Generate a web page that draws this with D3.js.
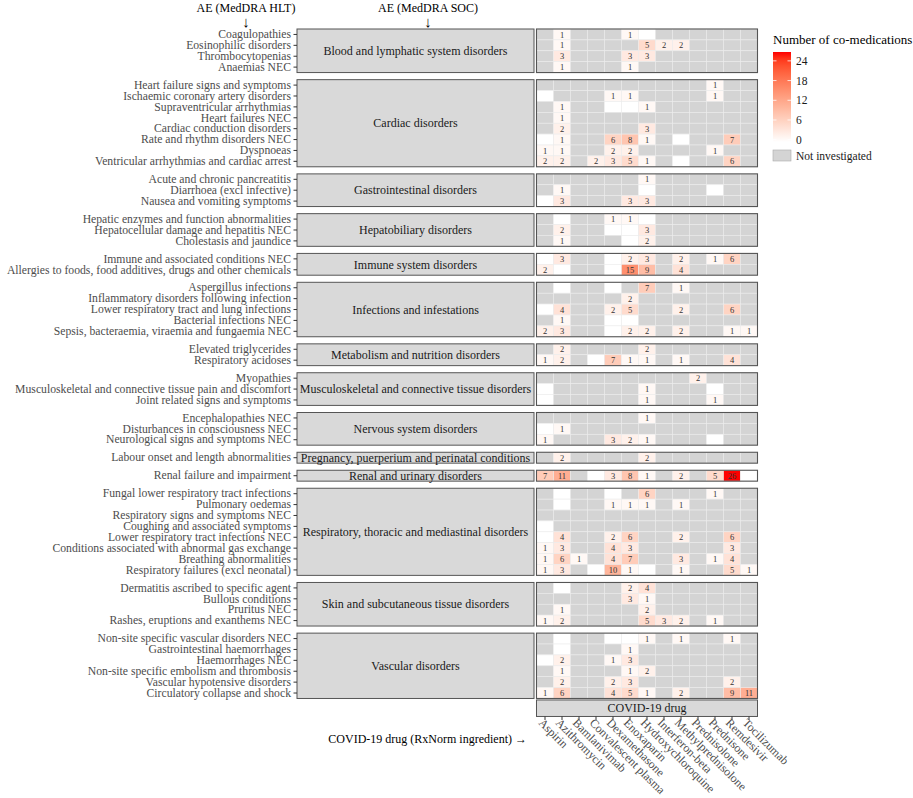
<!DOCTYPE html>
<html>
<head>
<meta charset="utf-8">
<script src="https://cdn.jsdelivr.net/npm/d3@7"></script>
<style>
  body { margin: 0; background: #fff; }
  text { font-family: "Liberation Serif", "Times New Roman", serif; }
</style>
</head>
<body>
<div id="chart"></div>
<script>
const drugs = ["Aspirin", "Azithromycin", "Bamlanivimab", "Convalescent plasma", "Dexamethasone",
  "Enoxaparin", "Hydroxychloroquine", "Interferon-beta", "Methylprednisolone", "Prednisolone",
  "Prednisone", "Remdesivir", "Tocilizumab"]

const socs = ["Blood and lymphatic system disorders", "Cardiac disorders", "Gastrointestinal disorders",
  "Hepatobiliary disorders", "Immune system disorders", "Infections and infestations",
  "Metabolism and nutrition disorders", "Musculoskeletal and connective tissue disorders",
  "Nervous system disorders", "Pregnancy, puerperium and perinatal conditions",
  "Renal and urinary disorders", "Respiratory, thoracic and mediastinal disorders",
  "Skin and subcutaneous tissue disorders", "Vascular disorders"]

const hlts = [
  ["Coagulopathies", "Eosinophilic disorders", "Thrombocytopenias", "Anaemias NEC"],
  ["Heart failure signs and symptoms", "Ischaemic coronary artery disorders", "Supraventricular arrhythmias",
   "Heart failures NEC", "Cardiac conduction disorders", "Rate and rhythm disorders NEC", "Dyspnoeas",
   "Ventricular arrhythmias and cardiac arrest"],
  ["Acute and chronic pancreatitis", "Diarrhoea (excl infective)", "Nausea and vomiting symptoms"],
  ["Hepatic enzymes and function abnormalities", "Hepatocellular damage and hepatitis NEC", "Cholestasis and jaundice"],
  ["Immune and associated conditions NEC", "Allergies to foods, food additives, drugs and other chemicals"],
  ["Aspergillus infections", "Inflammatory disorders following infection", "Lower respiratory tract and lung infections",
   "Bacterial infections NEC", "Sepsis, bacteraemia, viraemia and fungaemia NEC"],
  ["Elevated triglycerides", "Respiratory acidoses"],
  ["Myopathies", "Musculoskeletal and connective tissue pain and discomfort", "Joint related signs and symptoms"],
  ["Encephalopathies NEC", "Disturbances in consciousness NEC", "Neurological signs and symptoms NEC"],
  ["Labour onset and length abnormalities"],
  ["Renal failure and impairment"],
  ["Fungal lower respiratory tract infections", "Pulmonary oedemas", "Respiratory signs and symptoms NEC",
   "Coughing and associated symptoms", "Lower respiratory tract infections NEC",
   "Conditions associated with abnormal gas exchange", "Breathing abnormalities", "Respiratory failures (excl neonatal)"],
  ["Dermatitis ascribed to specific agent", "Bullous conditions", "Pruritus NEC", "Rashes, eruptions and exanthems NEC"],
  ["Non-site specific vascular disorders NEC", "Gastrointestinal haemorrhages", "Haemorrhages NEC",
   "Non-site specific embolism and thrombosis", "Vascular hypotensive disorders", "Circulatory collapse and shock"]
]

// null = not investigated, 0 = investigated with no co-medication
const n = null
const counts = [
  [[n,1,n,n,n,1,0,n,n,n,n,n,n], [n,1,n,n,n,n,5,2,2,n,n,n,n], [n,3,n,n,n,3,3,n,n,n,n,n,n], [n,1,n,n,n,1,n,n,n,n,n,n,n]],
  [[n,n,n,n,n,n,n,n,n,n,1,n,n], [0,n,n,n,1,1,n,n,n,n,1,n,n], [n,1,n,n,0,0,1,n,n,n,n,n,n], [n,1,n,n,n,n,n,n,n,n,n,n,n],
   [n,2,n,n,n,n,3,n,n,n,n,n,n], [0,1,n,n,6,8,1,n,0,n,n,7,n], [1,1,n,n,2,2,n,n,n,n,1,n,n], [2,2,n,2,3,5,1,n,0,n,n,6,n]],
  [[n,n,n,n,n,n,1,n,n,n,n,n,n], [n,1,n,n,n,n,0,n,n,n,0,n,n], [0,3,n,n,n,3,3,n,n,n,n,n,n]],
  [[n,0,n,n,1,1,0,n,n,n,n,n,n], [n,2,n,n,0,0,3,n,n,n,n,n,n], [n,1,n,n,n,0,2,n,n,n,n,n,n]],
  [[0,3,n,n,0,2,3,n,2,n,1,6,n], [2,0,n,n,0,15,9,n,4,n,n,n,n]],
  [[n,0,n,n,0,n,7,n,1,n,n,n,n], [n,n,n,n,n,2,n,n,n,n,n,n,n], [0,4,n,n,2,5,n,n,2,n,n,6,n], [n,1,n,n,0,0,n,n,n,n,n,n,n],
   [2,3,n,n,0,2,2,n,2,n,n,1,1]],
  [[n,2,n,n,n,n,2,n,n,n,n,n,n], [1,2,n,0,7,1,1,n,1,n,n,4,n]],
  [[n,n,n,n,n,n,n,n,n,2,n,n,n], [0,n,n,n,n,n,1,n,n,n,0,n,n], [0,n,n,n,n,n,1,n,n,n,1,n,n]],
  [[n,n,n,n,n,n,1,n,n,n,n,n,n], [0,1,n,n,n,n,n,n,n,n,n,n,n], [1,n,n,n,3,2,1,n,n,n,0,n,n]],
  [[n,2,n,n,n,n,2,n,n,n,n,n,n]],
  [[7,11,n,0,3,8,1,n,2,n,5,26,0]],
  [[n,0,n,n,0,n,6,n,n,n,1,n,n], [n,0,n,n,1,1,1,n,1,n,n,n,n], [n,n,n,n,n,n,n,n,n,n,n,n,n], [0,n,n,n,n,n,n,n,n,n,n,n,n],
   [0,4,n,n,2,6,n,n,2,n,n,6,n], [1,3,n,n,4,3,n,n,n,n,n,3,n], [1,6,1,n,4,7,n,n,3,n,1,4,n], [1,3,n,0,10,1,0,n,1,n,n,5,1]],
  [[n,0,n,n,n,2,4,n,n,n,n,n,n], [n,n,n,n,n,3,1,n,n,n,n,n,n], [n,1,n,n,n,n,2,n,n,n,n,n,n], [1,2,n,n,n,n,5,3,2,n,1,n,n]],
  [[n,0,n,n,0,0,1,n,1,n,n,1,n], [n,0,n,n,n,1,n,n,n,n,n,n,n], [0,2,n,n,1,3,n,n,n,n,n,n,n], [n,1,n,n,n,1,2,n,n,n,n,n,n],
   [n,2,n,n,2,3,n,n,n,n,n,2,n], [1,6,n,n,4,5,1,n,2,n,n,9,11]]
]

const legendBreaks = [0, 6, 12, 18, 24]

const size = [913, 798]
const panelX = [536.5, 757.5]
const stripX = [297, 534]
const top0 = 29, rowH = 10.89, gap = 7.1
const gridFill = "#d4d4d4", lineCol = "#555"
const axisFont = 11.7

const svg = d3.select("#chart").append("svg")
  .attr("width", size[0]).attr("height", size[1])
  .style("background", "#fff")

const scaleX = d3.scaleBand().domain(drugs).range(panelX)

const color = d3.scaleLinear().domain([0, 26]).range(["#ffffff", "#ff0000"])
  .interpolate(d3.interpolateLab)

// panel extents
let before = 0
const panels = socs.map((soc, i) => {
  const y0 = top0 + before * rowH + i * gap
  const y1 = y0 + hlts[i].length * rowH
  before += hlts[i].length
  return {soc, i, y0, y1, scaleY: d3.scaleBand().domain(hlts[i]).range([y0, y1])}
})

for (const p of panels) {
  const g = svg.append("g")
  // strip
  g.append("rect")
    .attr("x", stripX[0]).attr("y", p.y0)
    .attr("width", stripX[1] - stripX[0]).attr("height", p.y1 - p.y0)
    .attr("fill", "#d9d9d9").attr("stroke", lineCol).attr("stroke-width", 1)
  g.append("text")
    .attr("x", (stripX[0] + stripX[1]) / 2).attr("y", (p.y0 + p.y1) / 2)
    .attr("dy", "0.35em").attr("text-anchor", "middle")
    .attr("font-size", 12).attr("fill", "#1a1a1a")
    .text(p.soc)

  // y axis
  const yAxis = g.append("g")
    .attr("transform", `translate(${stripX[0]},0)`)
    .call(d3.axisLeft(p.scaleY).tickSize(3.5).tickPadding(2.5))
  yAxis.select(".domain").remove()
  yAxis.selectAll(".tick line").attr("stroke", "#333")
  yAxis.selectAll(".tick text")
    .attr("font-size", axisFont).attr("fill", "#4d4d4d")

  // cells
  const cells = []
  hlts[p.i].forEach((h, r) => drugs.forEach((d, c) => cells.push({h, d, v: counts[p.i][r][c]})))
  g.selectAll("rect.cell").data(cells).join("rect")
    .attr("class", "cell")
    .attr("x", d => scaleX(d.d)).attr("y", d => p.scaleY(d.h))
    .attr("width", scaleX.bandwidth()).attr("height", p.scaleY.bandwidth())
    .attr("fill", d => d.v == null ? gridFill : color(d.v))
    .attr("stroke", "#ececec").attr("stroke-width", 0.6)
  g.selectAll("text.num").data(cells.filter(d => d.v > 0)).join("text")
    .attr("class", "num")
    .attr("x", d => scaleX(d.d) + scaleX.bandwidth() / 2)
    .attr("y", d => p.scaleY(d.h) + p.scaleY.bandwidth() / 2)
    .attr("dy", "0.36em").attr("text-anchor", "middle")
    .attr("font-size", 8.5).attr("fill", "#333")
    .text(d => d.v)

  g.append("rect")
    .attr("x", panelX[0]).attr("y", p.y0)
    .attr("width", panelX[1] - panelX[0]).attr("height", p.y1 - p.y0)
    .attr("fill", "none").attr("stroke", lineCol).attr("stroke-width", 1.1)
}

// bottom strip + x axis
const bottom = panels[panels.length - 1].y1
const bStrip = [bottom + 1.5, bottom + 18]
svg.append("rect")
  .attr("x", panelX[0]).attr("y", bStrip[0])
  .attr("width", panelX[1] - panelX[0]).attr("height", bStrip[1] - bStrip[0])
  .attr("fill", "#d9d9d9").attr("stroke", lineCol).attr("stroke-width", 1)
svg.append("text")
  .attr("x", (panelX[0] + panelX[1]) / 2).attr("y", (bStrip[0] + bStrip[1]) / 2)
  .attr("dy", "0.35em").attr("text-anchor", "middle")
  .attr("font-size", 12).attr("fill", "#1a1a1a")
  .text("COVID-19 drug")

const xAxis = svg.append("g")
  .attr("transform", `translate(0,${bStrip[1]})`)
  .call(d3.axisBottom(scaleX).tickSize(3.5).tickSizeOuter(0))
xAxis.select(".domain").remove()
xAxis.selectAll(".tick line").attr("stroke", "#333")
xAxis.selectAll(".tick text")
  .attr("font-size", 11.9).attr("fill", "#4d4d4d")
  .attr("text-anchor", "start")
  .attr("transform", "translate(-1,1) rotate(45)")
  .attr("x", 0).attr("y", 0).attr("dy", "0.72em")

svg.append("text")
  .attr("x", 527).attr("y", 743)
  .attr("text-anchor", "end").attr("font-size", 12).attr("fill", "#000")
  .text("COVID-19 drug (RxNorm ingredient) →")

// top titles
const titles = [["AE (MedDRA HLT)", 246], ["AE (MedDRA SOC)", 428]]
for (const [t, x] of titles) {
  svg.append("text").attr("x", x).attr("y", 12)
    .attr("text-anchor", "middle").attr("font-size", 12).attr("fill", "#000").text(t)
  svg.append("text").attr("x", x).attr("y", 27)
    .attr("text-anchor", "middle").attr("font-size", 15).attr("fill", "#000").text("↓")
}

// legend
const leg = svg.append("g")
leg.append("text").attr("x", 773).attr("y", 43.5)
  .attr("font-size", 13).attr("fill", "#000").text("Number of co-medications")
const barY = [52, 142]
const legScale = d3.scaleLinear().domain([0, 26]).range([barY[1] - 2.3, barY[0] + 2.3])
const grad = svg.append("defs").append("linearGradient")
  .attr("id", "legGrad").attr("x1", 0).attr("x2", 0).attr("y1", 1).attr("y2", 0)
grad.selectAll("stop").data(d3.range(0, 27, 2)).join("stop")
  .attr("offset", d => d / 26).attr("stop-color", d => color(d))
leg.append("rect").attr("x", 773).attr("y", barY[0])
  .attr("width", 18).attr("height", barY[1] - barY[0]).attr("fill", "url(#legGrad)")
leg.selectAll("line.tk").data(legendBreaks).join("line")
  .attr("class", "tk")
  .attr("x1", 773).attr("x2", 776.5).attr("y1", d => legScale(d)).attr("y2", d => legScale(d))
  .attr("stroke", "#fff").attr("stroke-width", 0.8)
leg.selectAll("line.tk2").data(legendBreaks).join("line")
  .attr("class", "tk2")
  .attr("x1", 787.5).attr("x2", 791).attr("y1", d => legScale(d)).attr("y2", d => legScale(d))
  .attr("stroke", "#fff").attr("stroke-width", 0.8)
leg.selectAll("text.lb").data(legendBreaks).join("text")
  .attr("class", "lb")
  .attr("x", 796).attr("y", d => legScale(d)).attr("dy", "0.35em")
  .attr("font-size", 11.5).attr("fill", "#1a1a1a")
  .text(d => d)
leg.append("rect").attr("x", 773).attr("y", 150)
  .attr("width", 18).attr("height", 11)
  .attr("fill", gridFill).attr("stroke", "#aaa").attr("stroke-width", 0.6)
leg.append("text").attr("x", 796).attr("y", 155.5).attr("dy", "0.35em")
  .attr("font-size", 11.5).attr("fill", "#1a1a1a").text("Not investigated")
</script>
</body>
</html>
